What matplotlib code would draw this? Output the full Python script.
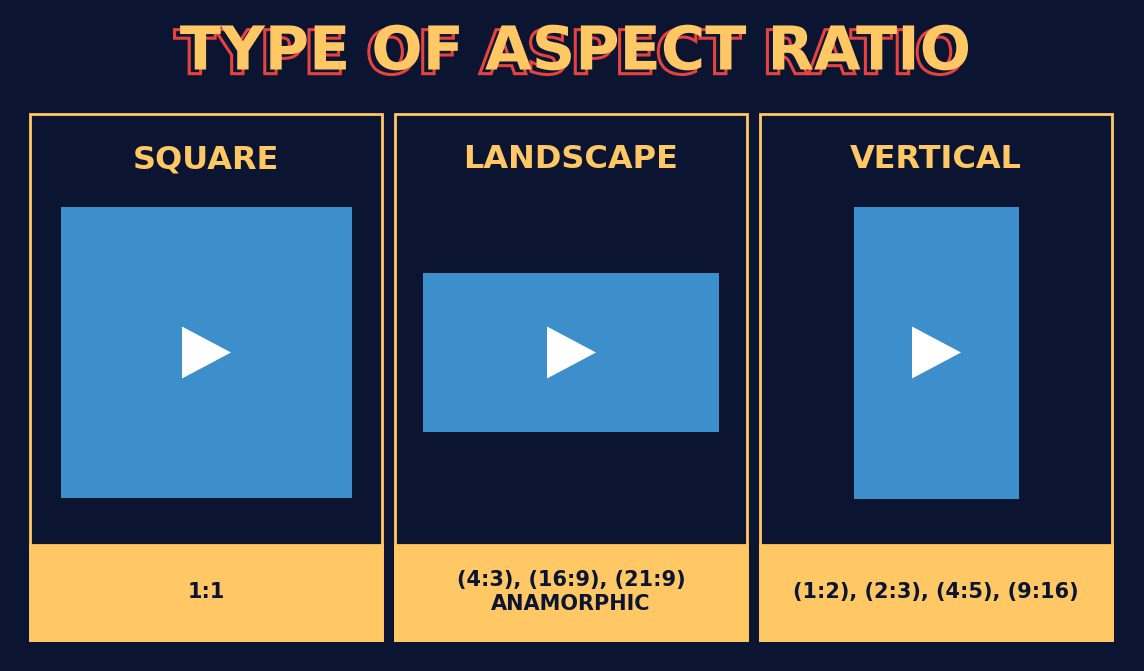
import matplotlib
matplotlib.use("Agg")
import matplotlib.pyplot as plt
import matplotlib.patches as mp
import matplotlib.patheffects as pe

title = "TYPE OF ASPECT RATIO"
categories = ["SQUARE", "LANDSCAPE", "VERTICAL"]
ratio_labels = ["1:1", "(4:3), (16:9), (21:9)\nANAMORPHIC", "(1:2), (2:3), (4:5), (9:16)"]
video_w = [291, 296, 165]
video_h = [291, 159, 292]

BG = "#0b1532"; YEL = "#ffc865"; BLUE = "#3d8fcb"; RED = "#e8423f"

fig = plt.figure(figsize=(11.44, 6.71), dpi=100, facecolor=BG)
ax = fig.add_axes([0, 0, 1, 1]); ax.set_xlim(0, 1144); ax.set_ylim(671, 0); ax.axis("off")
ax.set_facecolor(BG)

# title with offset red outline (single text, shadow via path effects)
ax.text(575, 53, title, ha="center", va="center", fontsize=43.5, fontweight="heavy",
        color=YEL, family="DejaVu Sans",
        path_effects=[pe.PathPatchEffect(offset=(-4, -3), facecolor=BG, edgecolor=RED, linewidth=2.2),
                      pe.Normal()])

lefts = [30, 395, 760]
pw, top, bot, band = 352, 114, 640, 545
for i, cat in enumerate(categories):
    x0 = lefts[i]; cx = x0 + pw / 2
    ax.add_patch(mp.Rectangle((x0, top), pw, bot - top, fill=False, ec=YEL, lw=2))
    ax.add_patch(mp.Rectangle((x0, band), pw, bot - band, fc=YEL, ec=YEL, lw=2))
    ax.text(cx, 160, cat, ha="center", va="center", fontsize=23, fontweight="bold", color=YEL)
    cy = 352.5
    ax.add_patch(mp.Rectangle((cx - video_w[i] / 2, cy - video_h[i] / 2), video_w[i], video_h[i], fc=BLUE, ec="none"))
    tx = cx
    ax.add_patch(mp.Polygon([(tx - 24, cy - 26), (tx - 24, cy + 26), (tx + 25, cy)], closed=True, fc="white", ec="none"))
    ax.text(cx, 592, ratio_labels[i], ha="center", va="center", fontsize=15, fontweight="bold",
            color=BG, linespacing=1.3)

fig.savefig("out.png", dpi=100, facecolor=BG)
